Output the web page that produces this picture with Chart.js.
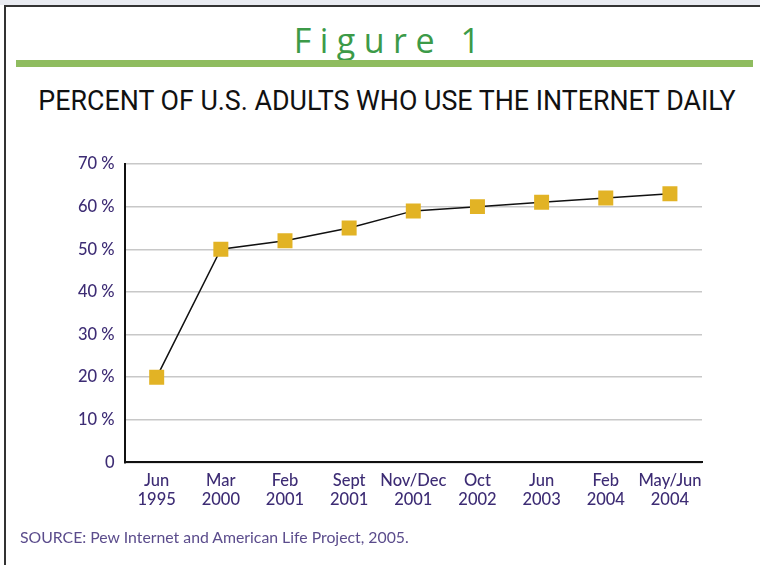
<!DOCTYPE html>
<html>
<head>
<meta charset="utf-8">
<script src="https://cdn.jsdelivr.net/npm/chart.js@4/dist/chart.umd.min.js"></script>
<style>
  html, body { margin:0; padding:0; background:#fff; }
  #wrap { position:relative; width:760px; height:565px; overflow:hidden; background:#fff; }
  #topband { position:absolute; left:0; top:0; width:760px; height:5px; background:#e9ebf1; }
  #topline { position:absolute; left:4px; top:5px; width:756px; height:2px; background:#333; }
  #leftline { position:absolute; left:4px; top:5px; width:2px; height:560px; background:#333; }
  #fig { position:absolute; left:0; width:760px; top:20px; text-align:center; font-family:"Open Sans", "DejaVu Sans", sans-serif; font-size:34px; letter-spacing:8.5px; color:#3c9a48; font-weight:400; line-height:40px; padding-left:22px; box-sizing:border-box;}
  #bar { position:absolute; left:16px; top:60px; width:737px; height:7px; background:#8fbc5f; }
  #title { position:absolute; left:0; width:760px; top:85px; text-align:center; font-family:"Roboto", sans-serif; font-size:26.8px; color:#111; line-height:32px; padding-left:14px; box-sizing:border-box; }
  #source { position:absolute; left:20px; top:527px; font-family:"Lato", "Open Sans", sans-serif; font-size:15.8px; color:#5b4c8c; }
  #c { position:absolute; left:0; top:0; }
</style>
</head>
<body>
<div id="wrap">
  <div id="topband"></div>
  <div id="topline"></div>
  <div id="leftline"></div>
  <div id="fig">Figure 1</div>
  <div id="bar"></div>
  <div id="title">PERCENT OF U.S. ADULTS WHO USE THE INTERNET DAILY</div>
  <canvas id="c" width="760" height="565"></canvas>
  <div id="source">SOURCE: Pew Internet and American Life Project, 2005.</div>
</div>
<script>
const categories = [["Jun","1995"],["Mar","2000"],["Feb","2001"],["Sept","2001"],["Nov/Dec","2001"],["Oct","2002"],["Jun","2003"],["Feb","2004"],["May/Jun","2004"]];
const dailyUse = [20, 50, 52, 55, 59, 60, 61, 62, 63];
const yTicks = [0, 10, 20, 30, 40, 50, 60, 70];

const labelColor = "#3d2c74";
const chart = new Chart(document.getElementById("c"), {
  type: "line",
  data: {
    labels: categories,
    datasets: [{
      data: dailyUse,
      borderColor: "#111",
      borderWidth: 1.5,
      pointStyle: "rect",
      pointRadius: 10.6,
      pointHoverRadius: 10.6,
      pointBackgroundColor: "#e2b325",
      pointBorderWidth: 0,
      tension: 0,
      fill: false
    }]
  },
  options: {
    responsive: false,
    animation: false,
    events: [],
    layout: { padding: { left: 68, right: 58, top: 164, bottom: 47 } },
    plugins: { legend: { display: false }, tooltip: { enabled: false } },
    scales: {
      x: {
        offset: true,
        grid: { display: false, drawTicks: false },
        border: { color: "#111", width: 2 },
        ticks: { color: labelColor, font: { family: "Lato, 'Open Sans', sans-serif", size: 16.5, weight: "500" }, padding: 8, maxRotation: 0, autoSkip: false }
      },
      y: {
        min: 0, max: 70,
        afterBuildTicks: (axis) => { axis.ticks = yTicks.map(v => ({ value: v })); },
        grid: { color: "#c8c8c8", lineWidth: 1.5, drawTicks: false },
        border: { color: "#111", width: 2 },
        ticks: {
          color: labelColor,
          font: { family: "Lato, 'Open Sans', sans-serif", size: 16.5, weight: "500" },
          padding: 10,
          callback: (v) => v === 0 ? "0" : v + " %"
        }
      }
    }
  }
});
</script>
</body>
</html>
